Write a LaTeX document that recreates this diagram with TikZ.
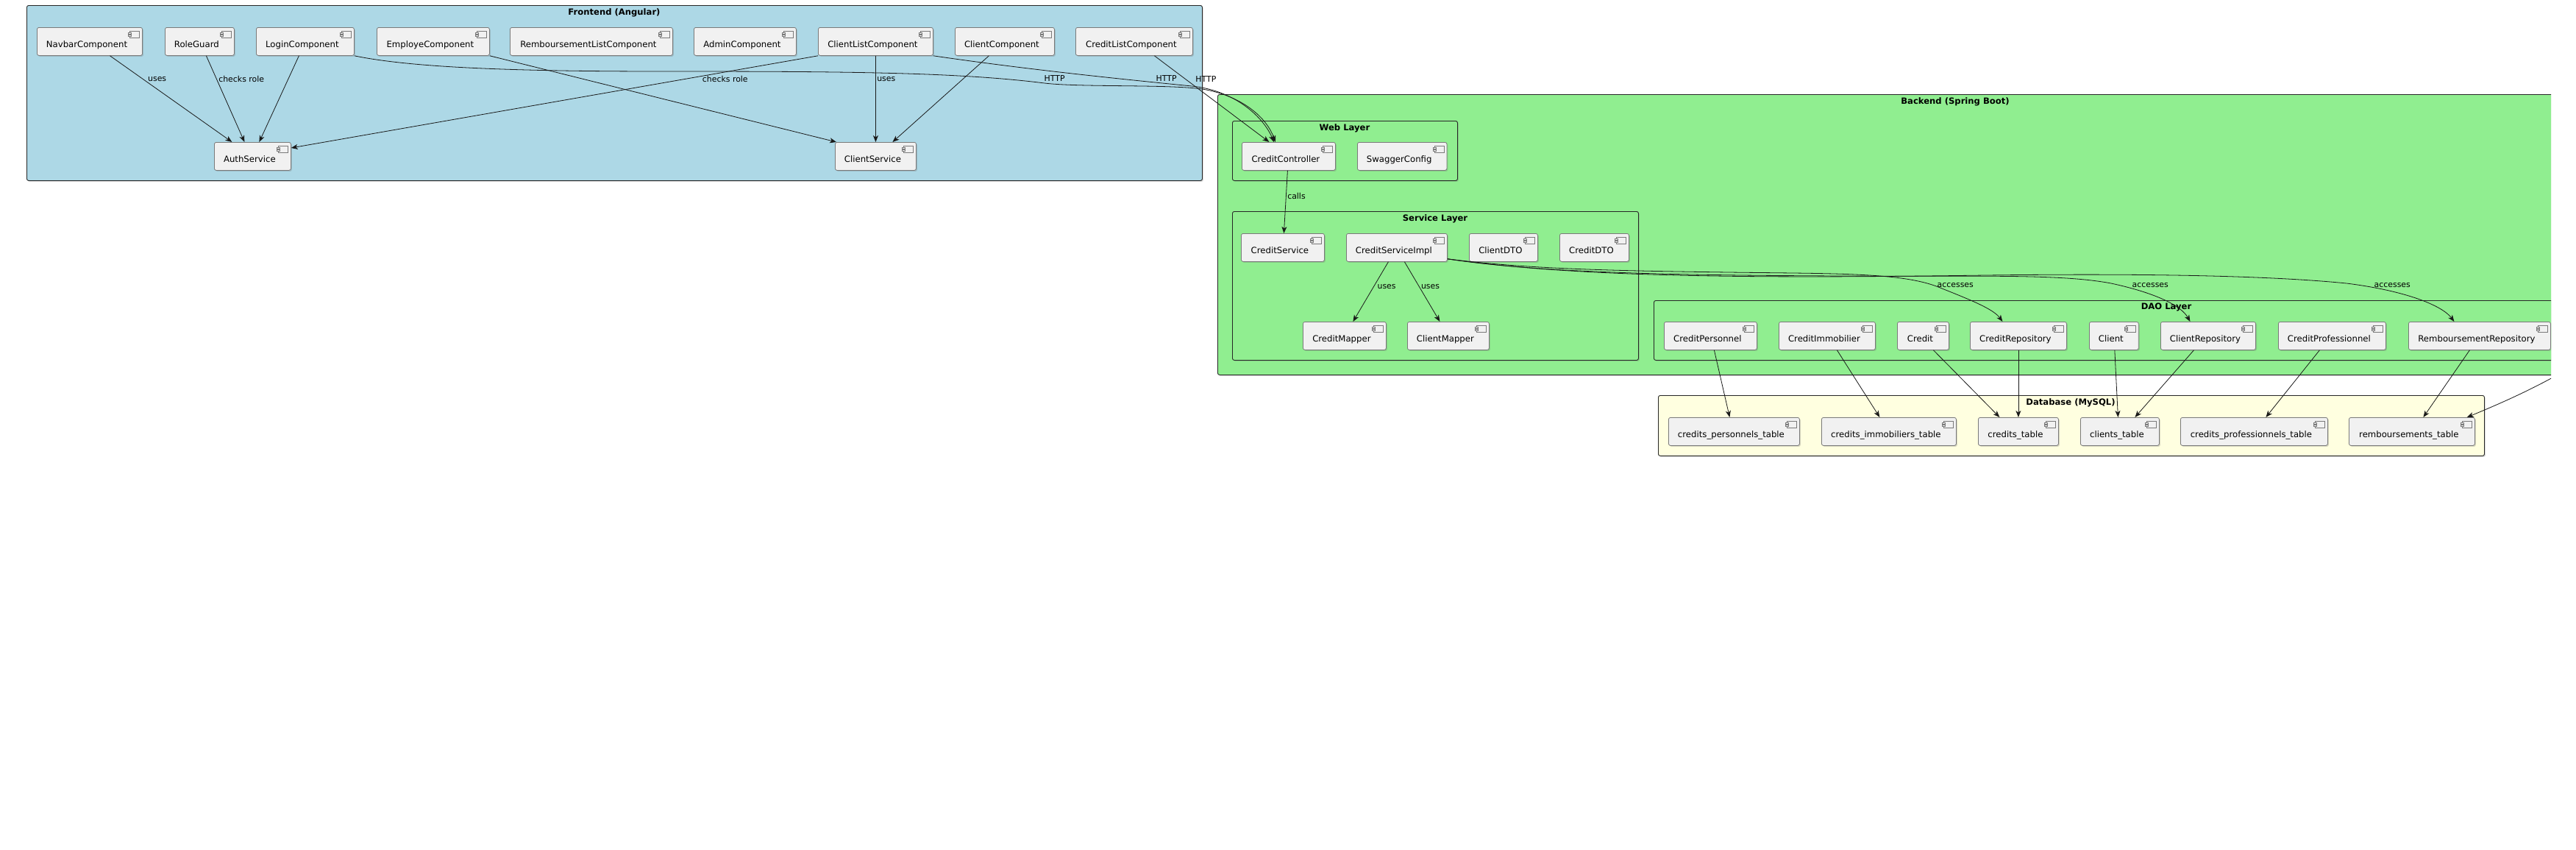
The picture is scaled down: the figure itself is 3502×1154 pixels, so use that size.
\documentclass[tikz,border=0pt]{standalone}
\usepackage{fontspec}
\setmainfont{DejaVu Sans}
\usetikzlibrary{arrows.meta,positioning,shadows}

\definecolor{frontfill}{HTML}{ADD8E6}
\definecolor{backfill}{HTML}{90EE90}
\definecolor{dbfill}{HTML}{FFFFE0}
\definecolor{compfill}{HTML}{F1F1F1}
\definecolor{compline}{HTML}{7A7A7A}

\tikzset{
  comp/.style={draw=compline, line width=0.8pt, fill=compfill, rounded corners=2.5pt,
    anchor=north west, minimum height=38pt, inner xsep=12.5pt, inner ysep=0pt,
    text height=18pt, text depth=1pt, font=\fontsize{11.7}{14}\selectfont,
    execute at end node={\hspace{8pt}},
    drop shadow={shadow xshift=1.5pt, shadow yshift=-1.5pt, opacity=0.25, fill=black!60},
    path picture={
      \draw[compline, line width=0.6pt, fill=compfill, sharp corners]
        ([shift={(-17pt,-5pt)}]path picture bounding box.north east) rectangle
        ([shift={(-4pt,-14pt)}]path picture bounding box.north east);
      \draw[compline, line width=0.6pt, fill=compfill, sharp corners]
        ([shift={(-19pt,-7pt)}]path picture bounding box.north east) rectangle
        ([shift={(-15pt,-9pt)}]path picture bounding box.north east);
      \draw[compline, line width=0.6pt, fill=compfill, sharp corners]
        ([shift={(-19pt,-10pt)}]path picture bounding box.north east) rectangle
        ([shift={(-15pt,-12pt)}]path picture bounding box.north east);
    }},
  pkg/.style={draw=black!85, line width=0.9pt, rounded corners=2.5pt, anchor=north west,
    inner sep=0pt,
    drop shadow={shadow xshift=1.5pt, shadow yshift=-1.5pt, opacity=0.25, fill=black!60}},
  pkgtitle/.style={anchor=north, inner sep=0pt, font=\bfseries\fontsize{11.6}{14}\selectfont},
  lbl/.style={inner sep=1.5pt, font=\fontsize{10.9}{13}\selectfont},
  flow/.style={draw=black!90, line width=0.8pt, -{Stealth[length=9pt,width=7pt,inset=2.5pt]}}
}

\begin{document}
\begin{tikzpicture}[x=1pt,y=-1pt]
\useasboundingbox (0,0) rectangle (3502,1154);
\fill[white] (0,0) rectangle (3502,1154);
\begin{scope}
\clip (0,0) rectangle (3468,1154);

\node[pkg, fill=frontfill, minimum width=1598pt, minimum height=238pt] (frontend) at (36,7) {};
\node[pkgtitle] (frontendtitle) at (835,11) {Frontend (Angular)};
\node[pkg, fill=backfill, minimum width=2006pt, minimum height=381pt] (backend) at (1655,128) {};
\node[pkgtitle] (backendtitle) at (2658,132) {Backend (Spring Boot)};
\node[pkg, fill=backfill, minimum width=306pt, minimum height=81pt] (weblayer) at (1675,164) {};
\node[pkgtitle] (weblayertitle) at (1828,168) {Web Layer};
\node[pkg, fill=backfill, minimum width=552pt, minimum height=202pt] (servicelayer) at (1675,287) {};
\node[pkgtitle] (servicelayertitle) at (1951,291) {Service Layer};
\node[pkg, fill=backfill, minimum width=1394pt, minimum height=81pt] (daolayer) at (2248,408) {};
\node[pkgtitle] (daolayertitle) at (2945,412) {DAO Layer};
\node[pkg, fill=dbfill, minimum width=1123pt, minimum height=82pt] (database) at (2254,537) {};
\node[pkgtitle] (databasetitle) at (2815,541) {Database (MySQL)};

\node[comp, minimum width=143pt] (navbar) at (50,37) {NavbarComponent};
\node[comp, minimum width=94pt] (roleguard) at (224,37) {RoleGuard};
\node[comp, minimum width=133pt] (login) at (348,37) {LoginComponent};
\node[comp, minimum width=153pt] (employe) at (512,37) {EmployeComponent};
\node[comp, minimum width=221pt] (rembList) at (693,37) {RemboursementListComponent};
\node[comp, minimum width=139pt] (admin) at (943,37) {AdminComponent};
\node[comp, minimum width=156pt] (clientList) at (1112,37) {ClientListComponent};
\node[comp, minimum width=135pt] (clientComp) at (1298,37) {ClientComponent};
\node[comp, minimum width=159pt] (creditList) at (1462,37) {CreditListComponent};
\node[comp, minimum width=104pt] (auth) at (291,193) {AuthService};
\node[comp, minimum width=110pt] (clientSvc) at (1135,193) {ClientService};

\node[comp, minimum width=127pt] (ctrl) at (1688,193) {CreditController};
\node[comp, minimum width=121pt] (swagger) at (1845,193) {SwaggerConfig};

\node[comp, minimum width=113pt] (creditSvc) at (1687,317) {CreditService};
\node[comp, minimum width=137pt] (impl) at (1830,317) {CreditServiceImpl};
\node[comp, minimum width=93pt] (clientDto) at (1997,317) {ClientDTO};
\node[comp, minimum width=94pt] (creditDto) at (2120,317) {CreditDTO};
\node[comp, minimum width=113pt] (creditMapper) at (1771,437) {CreditMapper};
\node[comp, minimum width=111pt] (clientMapper) at (1913,437) {ClientMapper};

\node[comp, minimum width=126pt] (creditPers) at (2262,437) {CreditPersonnel};
\node[comp, minimum width=131pt] (creditImmo) at (2418,437) {CreditImmobilier};
\node[comp, minimum width=70pt] (credit) at (2579,437) {Credit};
\node[comp, minimum width=131pt] (creditRepo) at (2678,437) {CreditRepository};
\node[comp, minimum width=66pt] (client) at (2840,437) {Client};
\node[comp, minimum width=129pt] (clientRepo) at (2937,437) {ClientRepository};
\node[comp, minimum width=146pt] (creditPro) at (3097,437) {CreditProfessionnel};
\node[comp, minimum width=193pt] (rembRepo) at (3274,437) {RemboursementRepository};

\node[comp, minimum width=178pt] (tPers) at (2268,567) {credits\_personnels\_table};
\node[comp, minimum width=183pt] (tImmo) at (2476,567) {credits\_immobiliers\_table};
\node[comp, minimum width=109pt] (tCredits) at (2689,567) {credits\_table};
\node[comp, minimum width=107pt] (tClients) at (2828,567) {clients\_table};
\node[comp, minimum width=200pt] (tPro) at (2964,567) {credits\_professionnels\_table};
\node[comp, minimum width=171pt] (tRemb) at (3193,567) {remboursements\_table};
\coordinate (rembExt) at (3472,512);

\path ([xshift=27.5pt]navbar.south) edge[flow] node[lbl, pos=0.27, right=5pt] {uses} ([xshift=-28pt]auth.north);
\path ([xshift=9pt]roleguard.south) edge[flow] node[lbl, pos=0.27, right=1pt] {checks role} ([xshift=-11pt]auth.north);
\path ([xshift=-8.5pt]login.south) edge[flow] ([xshift=9pt]auth.north);
\path (employe.south east) edge[flow] ([xshift=2pt]clientSvc.north west);
\path (clientList.south west) edge[flow] node[lbl, pos=0.254, right=23pt] {checks role} ([yshift=-8pt]auth.north east);
\path (clientList.south) edge[flow] node[lbl, pos=0.27, right=0pt] {uses} (clientSvc.north);
\path ([xshift=-21.5pt]clientComp.south) edge[flow] ([xshift=23pt]clientSvc.north);

\draw[flow] (login.south east) .. controls (560,92) and (700,97) .. (900,97)
  .. controls (1150,97) and (1300,98) .. (1420,113)
  .. controls (1470,119) and (1600,114) .. (1640,122)
  .. controls (1690,132) and (1722,160) .. ([xshift=-18pt]ctrl.north);
\node[lbl, anchor=west] (httpLogin) at (1418,107) {HTTP};
\draw[flow] (clientList.south east) .. controls (1400,95) and (1530,108) .. (1620,117)
  .. controls (1680,123) and (1718,160) .. ([xshift=-20pt]ctrl.north);
\node[lbl, anchor=west] (httpClientList) at (1570,107) {HTTP};
\path ([xshift=27.5pt]creditList.south) edge[flow] node[lbl, pos=0.27, right=12pt] {HTTP} ([xshift=-26.5pt]ctrl.north);

\path ([xshift=-1.5pt]ctrl.south) edge[flow] node[lbl, pos=0.41, right=0pt] {calls} ([xshift=1.5pt]creditSvc.north);
\path ([xshift=-11.5pt]impl.south) edge[flow] node[lbl, pos=0.41, right=3pt] {uses} ([xshift=11.5pt]creditMapper.north);
\path ([xshift=10.5pt]impl.south) edge[flow] node[lbl, pos=0.41, right=1pt] {uses} ([xshift=-11.5pt]clientMapper.north);

\draw[flow] ([yshift=4pt]impl.south east) .. controls (2080,366) and (2200,368) .. (2350,370)
  .. controls (2500,372) and (2590,370) .. (2640,392)
  .. controls (2680,408) and (2710,420) .. ([xshift=-21.5pt]creditRepo.north);
\node[lbl, anchor=west] (accCredit) at (2632,388) {accesses};
\draw[flow] ([yshift=4pt]impl.south east) .. controls (2100,372) and (2300,374) .. (2500,375)
  .. controls (2700,376) and (2800,372) .. (2870,385)
  .. controls (2930,398) and (2965,415) .. ([xshift=-24.5pt]clientRepo.north);
\node[lbl, anchor=west] (accClient) at (2897,388) {accesses};
\draw[flow] ([yshift=4pt]impl.south east) .. controls (2150,378) and (2400,378) .. (2700,374)
  .. controls (2950,371) and (3100,376) .. (3190,385)
  .. controls (3270,395) and (3320,415) .. ([xshift=-34.5pt]rembRepo.north);
\node[lbl, anchor=west] (accRemb) at (3226,388) {accesses};

\path ([xshift=5pt]creditPers.south) edge[flow] ([xshift=-6pt]tPers.north);
\path ([xshift=13.5pt]creditImmo.south) edge[flow] ([xshift=-12.5pt]tImmo.north);
\path ([xshift=14pt]credit.south) edge[flow] ([xshift=-25.5pt]tCredits.north);
\path (creditRepo.south) edge[flow] (tCredits.north);
\path ([xshift=1pt]client.south) edge[flow] ([xshift=-2.5pt]tClients.north);
\path ([xshift=-19.5pt]clientRepo.south) edge[flow] ([xshift=20.5pt]tClients.north);
\path ([xshift=-17pt]creditPro.south) edge[flow] ([xshift=16pt]tPro.north);
\path ([xshift=-13.5pt]rembRepo.south) edge[flow] ([xshift=15.5pt]tRemb.north);
\draw[flow] (rembExt) .. controls (3430,535) and (3390,552) .. ([xshift=-11pt]tRemb.north east);
\end{scope}
\end{tikzpicture}
\end{document}
